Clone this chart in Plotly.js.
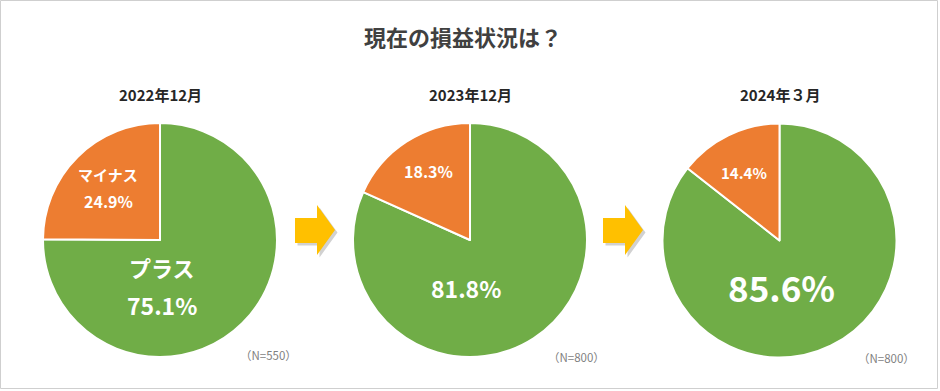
<!DOCTYPE html>
<html>
<head>
<meta charset="utf-8">
<script src="https://cdn.plot.ly/plotly-3.0.1.min.js"></script>
<style>html,body{margin:0;padding:0;background:#fff;}#chart{width:940px;height:391px;}</style>
</head>
<body>
<div id="chart"></div>
<script>
// ---- data ----
const chartTitle = "現在の損益状況は？";
const periods = ["2022年12月", "2023年12月", "2024年３月"];
const sliceLabels = ["プラス", "マイナス"];
const plusValues = [75.1, 81.8, 85.6];
const minusValues = [24.9, 18.3, 14.4];
const sampleSizes = [550, 800, 800];

const W = 940, H = 391;
const FONT = '"Noto Sans CJK JP", "Noto Sans", sans-serif';
const GREEN = "#70AD47", ORANGE = "#ED7D31", ARROW = "#FFC000";

// layout geometry (pixels)
const centers = [[160, 240], [470, 240], [779.5, 240.5]];
const R = 117;
const px = x => x / W;
const py = y => 1 - y / H;

const traces = periods.map((p, i) => ({
  type: "pie",
  values: [plusValues[i], minusValues[i]],
  labels: sliceLabels,
  sort: false,
  direction: "clockwise",
  rotation: 0,
  textinfo: "none",
  hoverinfo: "label+value",
  marker: { colors: [GREEN, ORANGE], line: { color: "#ffffff", width: 2 } },
  domain: {
    x: [px(centers[i][0] - R), px(centers[i][0] + R)],
    y: [py(centers[i][1] + R), py(centers[i][1] - R)]
  },
  showlegend: false
}));

const ann = [];
function addText(text, x, y, size, color, bold) {
  ann.push({
    text: bold ? "<b>" + text + "</b>" : text,
    x: px(x), y: py(y), xref: "paper", yref: "paper",
    xanchor: "center", yanchor: "middle", showarrow: false,
    font: { family: FONT, size: size, color: color }
  });
}
const pct = v => v.toFixed(1) + "%";

// title and subtitles
addText(chartTitle, 463, 36, 22, "#404040", true);
periods.forEach((p, i) => addText(p, centers[i][0], 95, 15, "#262626", true));

// slice labels
addText(sliceLabels[1], 108, 174, 15, "#ffffff", true);
addText(pct(minusValues[0]), 108, 201, 16, "#ffffff", true);
addText(sliceLabels[0], 162, 267, 22, "#ffffff", true);
addText(pct(plusValues[0]), 162, 305, 23, "#ffffff", true);

addText(pct(minusValues[1]), 428, 171, 16, "#ffffff", true);
addText(pct(plusValues[1]), 466, 288, 23, "#ffffff", true);

addText(pct(minusValues[2]), 744, 172, 15, "#ffffff", true);
addText(pct(plusValues[2]), 781, 286, 35, "#ffffff", true);

// sample sizes
const nPos = [[268, 355], [576, 357], [886, 358]];
sampleSizes.forEach((n, i) => addText("（N=" + n + "）", nPos[i][0], nPos[i][1], 11.5, "#7f7f7f", false));

// arrows
function arrowPath(x0, dx, dy) {
  const bodyL = x0, headB = x0 + 22, tip = x0 + 40;
  const pts = [
    [bodyL, 218], [headB, 218], [headB, 205], [tip, 230],
    [headB, 255], [headB, 243], [bodyL, 243]
  ];
  return "M " + pts.map(p => px(p[0] + dx) + "," + py(p[1] + dy)).join(" L ") + " Z";
}
const shapes = [];
[295, 603].forEach(x0 => {
  shapes.push({ type: "path", xref: "paper", yref: "paper", path: arrowPath(x0, 2.5, 2.5),
    fillcolor: "rgba(0,0,0,0.18)", line: { width: 0 }, layer: "below" });
  shapes.push({ type: "path", xref: "paper", yref: "paper", path: arrowPath(x0, 0, 0),
    fillcolor: ARROW, line: { width: 0 }, layer: "above" });
});
// outer border
shapes.push({ type: "rect", xref: "paper", yref: "paper",
  x0: px(0.5), x1: px(937.5), y0: py(388.5), y1: py(0.5),
  line: { color: "#cfcfcf", width: 1 }, fillcolor: "rgba(0,0,0,0)" });

const layout = {
  width: W, height: H,
  margin: { l: 0, r: 0, t: 0, b: 0 },
  paper_bgcolor: "#ffffff",
  plot_bgcolor: "#ffffff",
  annotations: ann,
  shapes: shapes,
  showlegend: false,
  font: { family: FONT }
};

Plotly.newPlot("chart", traces, layout, { displayModeBar: false, staticPlot: true });
</script>
</body>
</html>
